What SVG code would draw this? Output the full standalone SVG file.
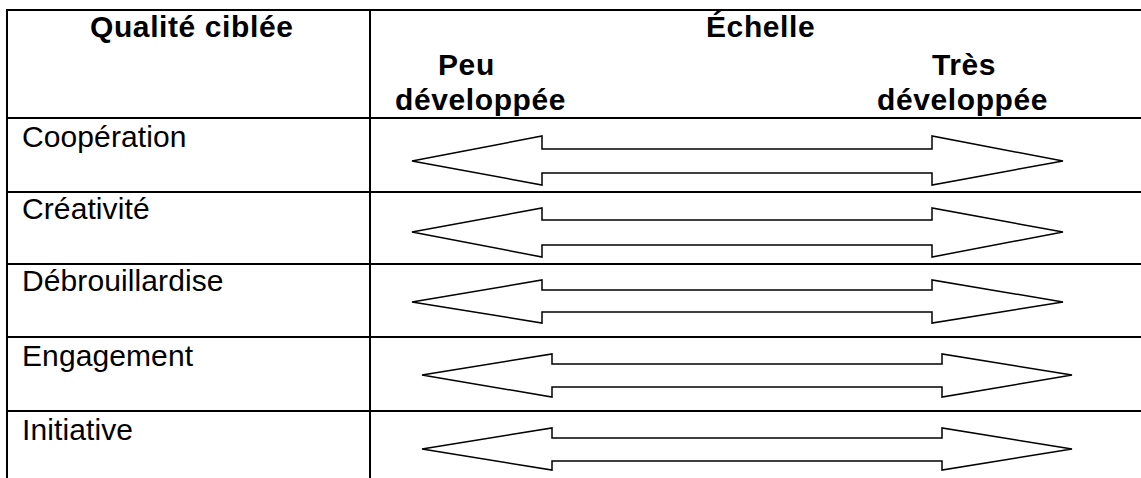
<svg xmlns="http://www.w3.org/2000/svg" width="1141" height="478" viewBox="0 0 1141 478">
<style>
.grid{stroke:#000;stroke-width:2;fill:none}
.arr{stroke:#000;stroke-width:1.5;fill:#fff;stroke-linejoin:miter}
.h{font-family:"Liberation Sans",Arial,sans-serif;font-weight:bold;font-size:30px;letter-spacing:0.6px;fill:#000}
.r{font-family:"Liberation Sans",Arial,sans-serif;font-size:30px;letter-spacing:0.1px;fill:#000}
</style>
<rect width="1141" height="478" fill="#fff"/>
<g id="table">
<path class="grid" d="M7 10H1141M7 118H1141M7 192H1141M7 264H1141M7 337H1141M7 411H1141M7 9V478M370 9V478"/>
</g>
<g id="header">
<text class="h" x="90" y="37">Qualité ciblée</text>
<text class="h" x="706" y="37">Échelle</text>
<text class="h" x="438" y="75">Peu</text>
<text class="h" x="395" y="110">développée</text>
<text class="h" x="932" y="75">Très</text>
<text class="h" x="877" y="110">développée</text>
</g>
<g id="row-cooperation">
<text class="r" x="22" y="147">Coopération</text>
<path class="arr" d="M412 161L542 136V149H932V136L1063 161L932 185V173H542V185Z"/>
</g>
<g id="row-creativite">
<text class="r" x="22" y="219">Créativité</text>
<path class="arr" d="M412 232L542 208V220H932V208L1063 232L932 257V245H542V257Z"/>
</g>
<g id="row-debrouillardise">
<text class="r" x="22" y="291">Débrouillardise</text>
<path class="arr" d="M412 302L542 280V290H932V280L1063 302L932 323V312H542V323Z"/>
</g>
<g id="row-engagement">
<text class="r" x="22" y="366">Engagement</text>
<path class="arr" d="M422 375L552 354V364H942V354L1072 375L942 397V387H552V397Z"/>
</g>
<g id="row-initiative">
<text class="r" x="22" y="440">Initiative</text>
<path class="arr" d="M422 449L552 428V438H942V428L1072 449L942 470V461H552V470Z"/>
</g>
</svg>
